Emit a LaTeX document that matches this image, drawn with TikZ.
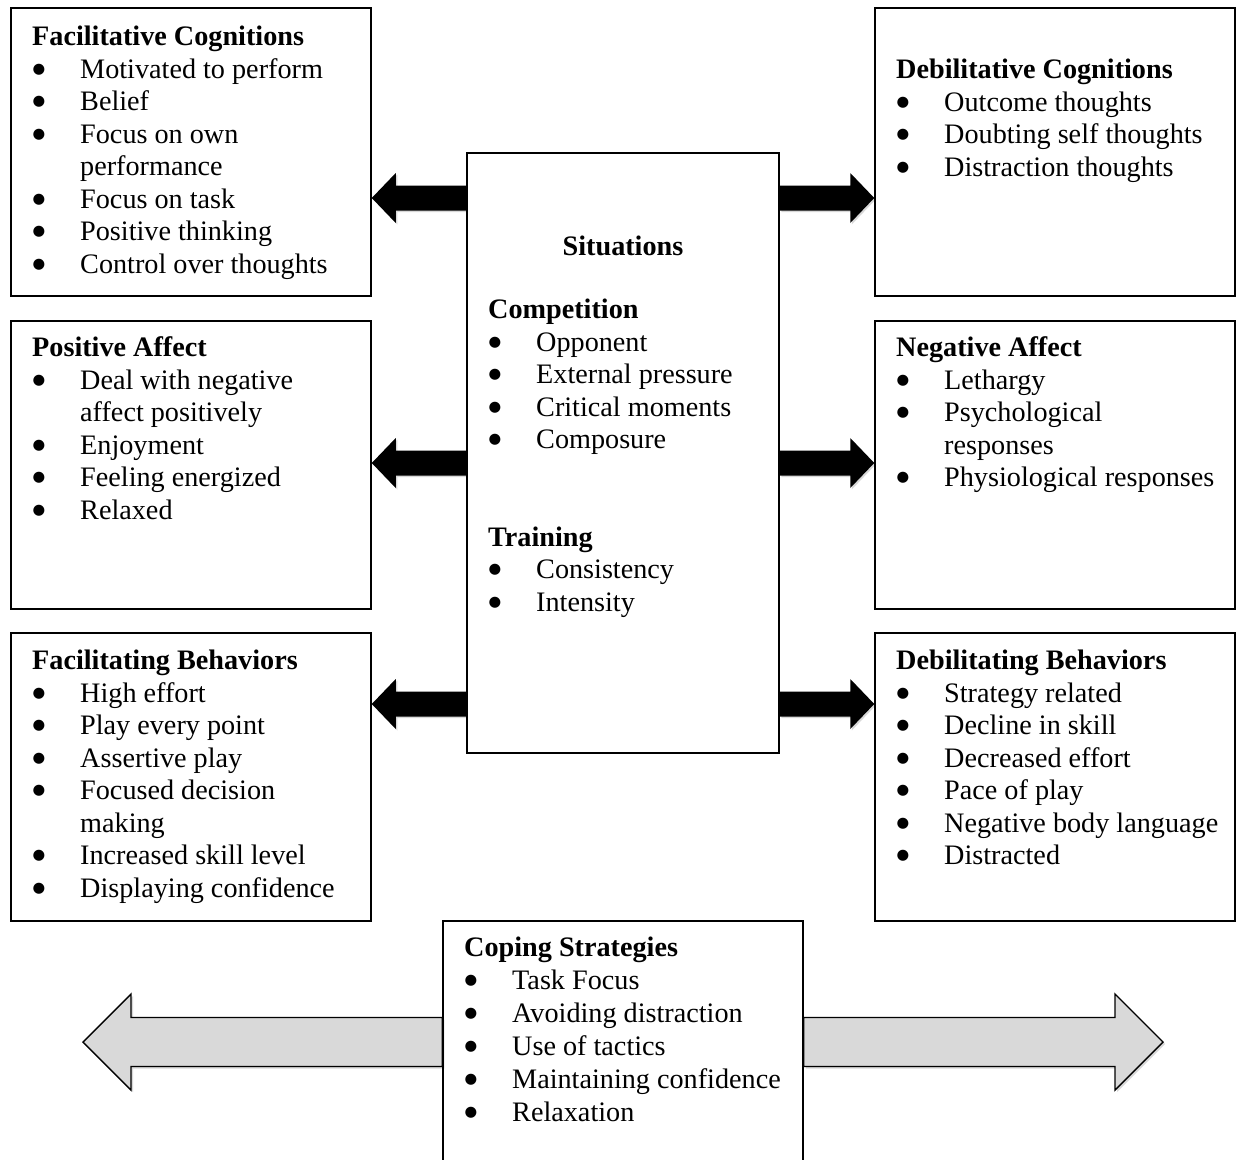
\documentclass[tikz,border=0pt]{standalone}
\usepackage{fontspec}
\setmainfont{Liberation Serif}
\newfontfamily\bulfont{DejaVu Sans}
\usetikzlibrary{calc,shadows,backgrounds}
\definecolor{arrgray}{HTML}{D9D9D9}
\newcommand\bul{\makebox[48pt][l]{\hspace*{0.5pt}\raisebox{5pt}{\bulfont\fontsize{14.5}{14.5}\selectfont ●}}}
\newcommand\cont{\hspace*{48pt}}
\newcommand\barrow[6]{%
  \path[#1] let \p1=(#2), \p2=(#3) in
  (\x1,\y1) -- ({\x1+(#6)},{\y1+(#5)}) -- ({\x1+(#6)},{\y1+(#4)}) -- ({\x2},{\y1+(#4)})
  -- ({\x2},{\y1-(#4)}) -- ({\x1+(#6)},{\y1-(#4)}) -- ({\x1+(#6)},{\y1-(#5)}) -- cycle;}
\tikzset{
  box/.style={draw, line width=1.5pt, inner sep=0pt, minimum width=360pt, minimum height=288pt},
  txt/.style={anchor=base west, inner sep=0pt, font=\fontsize{28.2}{32.5}\selectfont},
  blk/.style={fill=black, drop shadow={shadow xshift=1.5pt, shadow yshift=-1.5pt, opacity=0.3}},
  gry/.style={fill=arrgray, draw=black, line width=1.4pt, line join=miter,
    drop shadow={shadow xshift=2pt, shadow yshift=-2pt, opacity=0.3}}
}
\begin{document}
\begin{tikzpicture}[x=1pt,y=-1pt]
\useasboundingbox (0,0) rectangle (1239,1159);
\clip (0,0) rectangle (1239,1159);
% boxes
\node[box] (fc) at (191,152) {};
\node[box] (dc) at (1055,152) {};
\node[box] (pa) at (191,465) {};
\node[box] (na) at (1055,465) {};
\node[box] (fb) at (191,777) {};
\node[box] (db) at (1055,777) {};
\node[box, minimum width=312pt, minimum height=600pt] (sit) at (623,453) {};
\node[box, minimum height=260pt] (cs) at (623,1051) {};
% arrow levels
\coordinate (y1) at (0,198);
\coordinate (y2) at (0,463);
\coordinate (y3) at (0,704);
\coordinate (yg) at (0,1042);
\coordinate (gl) at (83,1042);
\coordinate (gr) at (1163,1042);
\begin{scope}[on background layer]
\fill[white] (0,0) rectangle (1239,1159);
\barrow{blk}{fc.east |- y1}{sit.west |- y1}{12.5pt}{25pt}{24pt}
\barrow{blk}{pa.east |- y2}{sit.west |- y2}{12.5pt}{25pt}{24pt}
\barrow{blk}{fb.east |- y3}{sit.west |- y3}{12.5pt}{25pt}{24pt}
\barrow{blk}{dc.west |- y1}{sit.east |- y1}{12.5pt}{25pt}{-24pt}
\barrow{blk}{na.west |- y2}{sit.east |- y2}{12.5pt}{25pt}{-24pt}
\barrow{blk}{db.west |- y3}{sit.east |- y3}{12.5pt}{25pt}{-24pt}
\barrow{gry}{gl}{cs.west |- yg}{24.5pt}{48pt}{48pt}
\barrow{gry}{gr}{cs.east |- yg}{24.5pt}{48pt}{-48pt}
\end{scope}
% texts
\node[txt] (fct) at (32,45.5) {\begin{tabular}[t]{@{}l@{}}
\textbf{Facilitative Cognitions}\\
\bul Motivated to perform\\
\bul Belief\\
\bul Focus on own\\
\cont performance\\
\bul Focus on task\\
\bul Positive thinking\\
\bul Control over thoughts
\end{tabular}};
\node[txt] (dct) at (896,78.5) {\begin{tabular}[t]{@{}l@{}}
\textbf{Debilitative Cognitions}\\
\bul Outcome thoughts\\
\bul Doubting self thoughts\\
\bul Distraction thoughts
\end{tabular}};
\node[txt, anchor=base] (sitt) at (623,255.5) {\textbf{Situations}};
\node[txt] (sitl) at (488,318.5) {\begin{tabular}[t]{@{}l@{}}
\textbf{Competition}\\
\bul Opponent\\
\bul External pressure\\
\bul Critical moments\\
\bul Composure\\
\\
\\
\textbf{Training}\\
\bul Consistency\\
\bul Intensity
\end{tabular}};
\node[txt] (pat) at (32,356.5) {\begin{tabular}[t]{@{}l@{}}
\textbf{Positive Affect}\\
\bul Deal with negative\\
\cont affect positively\\
\bul Enjoyment\\
\bul Feeling energized\\
\bul Relaxed
\end{tabular}};
\node[txt] (nat) at (896,356.5) {\begin{tabular}[t]{@{}l@{}}
\textbf{Negative Affect}\\
\bul Lethargy\\
\bul Psychological\\
\cont responses\\
\bul Physiological responses
\end{tabular}};
\node[txt] (fbt) at (32,669.5) {\begin{tabular}[t]{@{}l@{}}
\textbf{Facilitating Behaviors}\\
\bul High effort\\
\bul Play every point\\
\bul Assertive play\\
\bul Focused decision\\
\cont making\\
\bul Increased skill level\\
\bul Displaying confidence
\end{tabular}};
\node[txt] (dbt) at (896,669.5) {\begin{tabular}[t]{@{}l@{}}
\textbf{Debilitating Behaviors}\\
\bul Strategy related\\
\bul Decline in skill\\
\bul Decreased effort\\
\bul Pace of play\\
\bul Negative body language\\
\bul Distracted
\end{tabular}};
\node[txt, font=\fontsize{28.2}{33}\selectfont] (cst) at (464,956.5) {\begin{tabular}[t]{@{}l@{}}
\textbf{Coping Strategies}\\
\bul Task Focus\\
\bul Avoiding distraction\\
\bul Use of tactics\\
\bul Maintaining confidence\\
\bul Relaxation
\end{tabular}};
\end{tikzpicture}
\end{document}
